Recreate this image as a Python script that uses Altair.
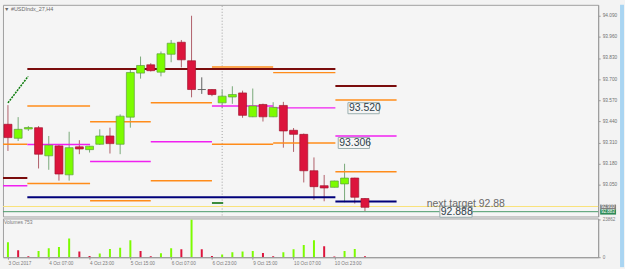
import json
import altair as alt
import pandas as pd

# ---------------- data ----------------
bar_index = list(range(36))
open_price = [93.422, 93.336, 93.393, 93.401, 93.228, 93.289, 93.111, 93.283, 93.266, 93.299,
              93.350, 93.299, 93.466, 93.737, 93.788, 93.743, 93.853, 93.927, 93.813, 93.636,
              93.636, 93.554, 93.590, 93.615, 93.468, 93.544, 93.468, 93.538, 93.385, 93.360,
              93.136, 93.044, 93.034, 93.055, 93.091, 92.965]
high_price = [93.540, 93.466, 93.411, 93.411, 93.350, 93.295, 93.376, 93.324, 93.289, 93.391,
              93.401, 93.483, 93.758, 93.839, 93.798, 93.870, 93.941, 93.941, 94.090, 93.711,
              93.638, 93.636, 93.656, 93.629, 93.642, 93.549, 93.558, 93.560, 93.399, 93.365,
              93.218, 93.110, 93.075, 93.179, 93.093, 92.968]
low_price = [93.258, 93.319, 93.381, 93.150, 93.142, 93.075, 93.075, 93.238, 93.248, 93.295,
             93.242, 93.238, 93.401, 93.703, 93.747, 93.717, 93.804, 93.772, 93.588, 93.609,
             93.595, 93.521, 93.548, 93.462, 93.466, 93.439, 93.466, 93.278, 93.252, 93.064,
             92.957, 92.948, 93.034, 92.942, 92.934, 92.888]
close_price = [93.340, 93.391, 93.402, 93.238, 93.293, 93.116, 93.278, 93.270, 93.287, 93.350,
               93.303, 93.472, 93.741, 93.784, 93.752, 93.856, 93.921, 93.819, 93.636, 93.636,
               93.605, 93.595, 93.605, 93.477, 93.535, 93.468, 93.526, 93.381, 93.360, 93.136,
               93.038, 93.030, 93.073, 93.091, 92.973, 92.911]
volume = [9500, 4400, 600, 4000, 5700, 6500, 12000, 3600, 800, 2300,
          5300, 6100, 10800, 4000, 600, 2500, 5700, 5100, 23862, 5100,
          800, 1700, 3200, 3600, 4000, 2700, 600, 3200, 5100, 7800,
          10800, 7000, 450, 4000, 5300, 600]
volume_dir = ["up", "down", "down", "up", "up", "up", "up", "down", "down", "up",
              "up", "up", "up", "down", "down", "up", "up", "down", "up", "down",
              "down", "up", "up", "up", "up", "down", "down", "up", "up", "up",
              "up", "down", "down", "up", "up", "down"]

price_ticks = [94.090, 93.960, 93.830, 93.700, 93.570, 93.440, 93.310, 93.180, 93.050]
volume_ticks = [0, 23862]
time_tick_bars = [0, 4, 8, 12, 16, 20, 24, 28, 32]
time_labels = ["3 Oct 2017", "4 Oct 07:00", "4 Oct 23:00", "5 Oct 15:00", "6 Oct 07:00",
               "6 Oct 23:00", "9 Oct 15:00", "10 Oct 07:00", "10 Oct 23:00"]

# drawn horizontal levels (kind, from bar, to bar, price)
level_kind = ["maroon", "orange", "magenta",
              "maroon", "orange", "orange", "magenta",
              "orange", "orange", "magenta",
              "orange", "orange", "magenta",
              "orange", "orange", "magenta",
              "orange", "orange", "magenta",
              "navy", "darkgreen",
              "maroon", "orange", "magenta", "orange", "navy"]
level_from = [-0.5, -0.5, -0.5,
              1.9, 1.9, 1.9, 1.9,
              8.05, 8.05, 8.05,
              14.0, 14.0, 14.0,
              20.0, 20.0, 20.0,
              26.0, 26.0, 26.0,
              1.9, 20.0,
              32.1, 32.1, 32.1, 32.1, 32.1]
level_to = [1.9, 1.9, 1.9,
            32.1, 8.05, 8.05, 8.05,
            14.0, 14.0, 14.0,
            20.0, 20.0, 20.0,
            26.0, 26.0, 26.0,
            32.1, 32.1, 32.1,
            32.1, 21.1,
            38.1, 38.1, 38.1, 38.1, 38.1]
level_price = [93.091, 93.299, 93.044,
               93.762, 93.535, 93.058, 93.297,
               93.437, 92.951, 93.193,
               93.554, 93.075, 93.315,
               93.774, 93.299, 93.535,
               93.740, 93.307, 93.523,
               92.973, 92.938,
               93.658, 93.572, 93.350, 93.130, 92.946]

# full width lines
full_kind = ["yellow", "bid"]
full_price = [92.916, 92.884]

# trend line
trend_bar = [0.0, 1.98]
trend_price = [93.554, 93.717]

# vertical separator
vline_bar = [21.0]

# boxed labels
box_text = ["93.520", "93.306", "92.888"]
box_from = [33.33, 32.38, 42.34]
box_to = [36.40, 35.44, 45.50]
box_price = [93.521, 93.307, 92.884]

note_text = ["next target 92.88"]
note_bar = [41.05]
note_price = [92.932]

axis_box_text = ["92.910", "92.883"]
axis_box_price = [92.912, 92.882]
axis_box_kind = ["gray", "bidbox"]

chart_title = "\u25bc #USDIndx_27,H4"
volume_title = "Volumes 753"

# ---------------- styles ----------------
W = 599
H_MAIN = 213
H_VOL = 39
X_MAX = W / 10.44
FONT = "Liberation Sans"

BODY = {"up": "#7cfc00", "down": "#dc143c", "flat": "#606060"}
EDGE = {"up": "#5e9e40", "down": "#a3162f", "flat": "#606060"}
WICK = {"up": "#78a878", "down": "#b0606a", "flat": "#606060"}
LEVEL_COLOR = {"maroon": "#7a0c0c", "orange": "#ff8c1a", "magenta": "#f020f0",
               "navy": "#00007a", "darkgreen": "#3c8c3c",
               "yellow": "#f9e27a", "bid": "#4a9a6a",
               "gray": "#808080", "bidbox": "#2e8b57"}
LEVEL_WIDTH = {"maroon": 2, "orange": 1.5, "magenta": 1.5, "navy": 2, "darkgreen": 2,
               "yellow": 1, "bid": 1}

# ---------------- frames ----------------
candles = pd.DataFrame({"i": bar_index, "open": open_price, "high": high_price,
                        "low": low_price, "close": close_price})
candles["dir"] = ["up" if c > o else ("down" if c < o else "flat")
                  for o, c in zip(open_price, close_price)]
candles["body"] = candles["dir"].map(BODY)
candles["edge"] = candles["dir"].map(EDGE)
candles["wick"] = candles["dir"].map(WICK)

levels = pd.DataFrame({"kind": level_kind, "x0": level_from, "x1": level_to, "price": level_price})
levels["col"] = levels["kind"].map(LEVEL_COLOR)
levels["sw"] = levels["kind"].map(LEVEL_WIDTH)

fulls = pd.DataFrame({"kind": full_kind, "price": full_price})
fulls["col"] = fulls["kind"].map(LEVEL_COLOR)

trend = pd.DataFrame({"i": trend_bar, "price": trend_price})
vlines = pd.DataFrame({"i": vline_bar})
boxes = pd.DataFrame({"text": box_text, "x0": box_from, "x1": box_to, "price": box_price})
notes = pd.DataFrame({"text": note_text, "i": note_bar, "price": note_price})
axboxes = pd.DataFrame({"text": axis_box_text, "price": axis_box_price, "kind": axis_box_kind})
axboxes["col"] = axboxes["kind"].map(LEVEL_COLOR)

vols = pd.DataFrame({"i": bar_index, "v": volume, "dir": volume_dir})
vols["col"] = vols["dir"].map(BODY)

xscale = alt.Scale(domain=[0, X_MAX], nice=False, zero=False)
yscale = alt.Scale(domain=[92.8545, 94.1573], nice=False, zero=False)

y_axis = alt.Axis(orient="right", values=price_ticks, format=".3f", labelFontSize=4.8,
                  labelColor="#707070", tickColor="#9a9a9a", tickSize=2, labelPadding=2,
                  domainColor="#9a9a9a", grid=False, title=None, labelFont=FONT)

X = lambda f: alt.X(f, scale=xscale, axis=None)
Y = lambda f: alt.Y(f, scale=yscale, axis=y_axis)

vline = alt.Chart(vlines).mark_rule(strokeDash=[1, 2], color="#a0a0a0", strokeWidth=1).encode(
    x=X("i:Q"), y=alt.value(1), y2=alt.value(H_MAIN - 1))

level_layer = alt.Chart(levels).mark_rule(clip=True).encode(
    x=X("x0:Q"), x2="x1:Q", y=Y("price:Q"),
    color=alt.Color("col:N", scale=None), strokeWidth=alt.StrokeWidth("sw:Q", scale=None))

full_layer = alt.Chart(fulls).mark_rule(strokeWidth=1).encode(
    y=Y("price:Q"), color=alt.Color("col:N", scale=None))

trend_layer = alt.Chart(trend).mark_line(color="#0a7a0a", strokeWidth=1.5, strokeDash=[2, 1],
                                         clip=True).encode(x=X("i:Q"), y=Y("price:Q"))

wicks = alt.Chart(candles).mark_rule(strokeWidth=1, clip=True).encode(
    x=X("i:Q"), y=Y("low:Q"), y2="high:Q",
    color=alt.Color("wick:N", scale=None))

bodies = alt.Chart(candles).mark_bar(size=8, strokeWidth=0.7, clip=True).encode(
    x=X("i:Q"), y=Y("open:Q"), y2="close:Q",
    fill=alt.Fill("body:N", scale=None), stroke=alt.Stroke("edge:N", scale=None))

box_rect = alt.Chart(boxes).transform_calculate(
    top="datum.price + 0.034", bot="datum.price - 0.034"
).mark_rect(fill="#f5f5f5", stroke="#9aaeae", strokeWidth=1, clip=False).encode(
    x=X("x0:Q"), x2="x1:Q", y=Y("top:Q"), y2="bot:Q")

box_txt = alt.Chart(boxes).mark_text(align="left", baseline="middle", fontSize=10.5, font=FONT,
                                     color="#2f3f4a", dx=1).encode(
    x=X("x0:Q"), y=Y("price:Q"), text="text:N")

note_txt = alt.Chart(notes).mark_text(align="left", baseline="middle", fontSize=10.5, font=FONT,
                                      color="#6a6a6a").encode(
    x=X("i:Q"), y=Y("price:Q"), text="text:N")

title_txt = alt.Chart(pd.DataFrame({"t": [chart_title]})).mark_text(
    align="left", baseline="middle", fontSize=5.5, font=FONT, color="#6a6a6a").encode(
    x=alt.value(1), y=alt.value(4), text="t:N")

ax_box = alt.Chart(axboxes).mark_rule(strokeWidth=5.2, clip=False).encode(
    x=alt.value(W + 2), x2=alt.value(W + 18), y=Y("price:Q"), color=alt.Color("col:N", scale=None))
ax_txt = alt.Chart(axboxes).mark_text(align="left", baseline="middle", fontSize=4.5, font=FONT,
                                      color="white").encode(
    x=alt.value(W + 3), y=Y("price:Q"), text="text:N")

strip_main = alt.Chart(pd.DataFrame({"a": [0]})).mark_rect(
    color="#a9d5f2", clip=False).encode(
    x=alt.value(W + 22), x2=alt.value(W + 26), y=alt.value(0), y2=alt.value(H_MAIN + 2))

main = alt.layer(wicks, vline, level_layer, full_layer, trend_layer, bodies,
                 box_rect, box_txt, note_txt, title_txt, ax_box, ax_txt, strip_main
                 ).properties(width=W, height=H_MAIN)

label_expr = json.dumps(time_labels) + "[round(datum.value / 4)]"
vol_bars = alt.Chart(vols).mark_bar(size=2, clip=True).encode(
    x=alt.X("i:Q", scale=xscale,
            axis=alt.Axis(values=time_tick_bars, labelExpr=label_expr, labelAlign="left",
                          labelFontSize=4.7, labelColor="#7a7a7a", tickSize=2, labelPadding=1,
                          tickColor="#9a9a9a", domainColor="#9a9a9a", grid=False, title=None,
                          labelFont=FONT, labelOverlap=False, labelFlush=False)),
    y=alt.Y("v:Q", scale=alt.Scale(domain=[0, 24685], nice=False),
            axis=alt.Axis(orient="right", values=volume_ticks, labelFontSize=4.6,
                          labelColor="#7a7a7a", tickColor="#9a9a9a", tickSize=2, labelPadding=2,
                          domainColor="#9a9a9a", grid=False, title=None, labelFont=FONT,
                          format="d")),
    color=alt.Color("col:N", scale=None))

vol_title = alt.Chart(pd.DataFrame({"t": [volume_title]})).mark_text(
    align="left", baseline="middle", fontSize=5, font=FONT, color="#7a7a7a").encode(
    x=alt.value(1), y=alt.value(4), text="t:N")

strip_vol = alt.Chart(pd.DataFrame({"a": [0]})).mark_rect(
    color="#a9d5f2", clip=False).encode(
    x=alt.value(W + 22), x2=alt.value(W + 26), y=alt.value(-2), y2=alt.value(H_VOL + 10))

vol = alt.layer(vol_bars, vol_title, strip_vol).properties(width=W, height=H_VOL)

chart = alt.vconcat(main, vol, spacing=2, bounds="flush").properties(
    padding={"left": 2, "top": 3, "right": 0, "bottom": 0},
    background="#f3f3f3",
).configure_view(stroke="#a0a0a0", fill="#f5f5f5")

chart.save("out.html", embed_options={"renderer": "svg", "actions": False})
